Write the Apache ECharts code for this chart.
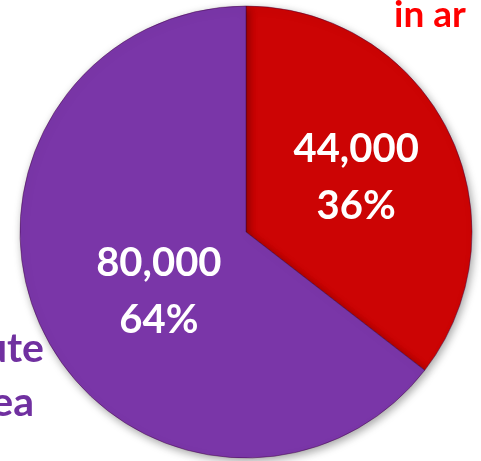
<!DOCTYPE html>
<html>
<head>
<meta charset="utf-8">
<script src="https://cdn.jsdelivr.net/npm/echarts@6/dist/echarts.min.js"></script>
<style>
html,body{margin:0;padding:0;background:#fff;}
#c{width:481px;height:461px;}
</style>
</head>
<body>
<div id="c"></div>
<script>
var sliceNames = ['in ar', 'ute ea'];
var sliceValues = [44000, 80000];
var slicePercents = ['36%', '64%'];
var sliceColors = ['#cc0404', '#7a36a8'];
var sideTexts = ['in ar', 'ute', 'ea'];

var chart = echarts.init(document.getElementById('c'), null, {renderer: 'canvas'});

var data = sliceNames.map(function (n, i) {
  return {
    name: n,
    value: sliceValues[i],
    itemStyle: { color: sliceColors[i] },
    label: { offset: i === 0 ? [6, -3] : [17, 9] }
  };
});

chart.setOption({
  animation: false,
  backgroundColor: '#ffffff',
  series: [{
    type: 'pie',
    center: [246, 232],
    radius: [0, 226],
    startAngle: 90,
    clockwise: true,
    silent: true,
    data: data,
    itemStyle: {
      borderColor: 'rgba(60,0,60,0.45)',
      borderWidth: 1,
      shadowBlur: 8,
      shadowColor: 'rgba(0,0,0,0.35)',
      shadowOffsetX: 2,
      shadowOffsetY: 3
    },
    label: {
      show: true,
      position: 'inside',
      color: '#ffffff',
      fontFamily: 'Lato',
      fontWeight: 'bold',
      fontSize: 40,
      lineHeight: 57,
      formatter: function (p) {
        return p.value.toLocaleString('en-US') + '\n' + slicePercents[p.dataIndex];
      }
    },
    labelLine: { show: false }
  }],
  graphic: [
    {
      type: 'text', left: 394, top: -3,
      style: { text: sideTexts[0], fill: '#ff0000', font: 'bold 37px Lato' }
    },
    {
      type: 'text', right: 437, top: 328,
      style: { text: sideTexts[1], fill: '#7030a0', font: 'bold 41px Lato' }
    },
    {
      type: 'text', right: 447, top: 382,
      style: { text: sideTexts[2], fill: '#7030a0', font: 'bold 41px Lato' }
    }
  ]
});
</script>
</body>
</html>
